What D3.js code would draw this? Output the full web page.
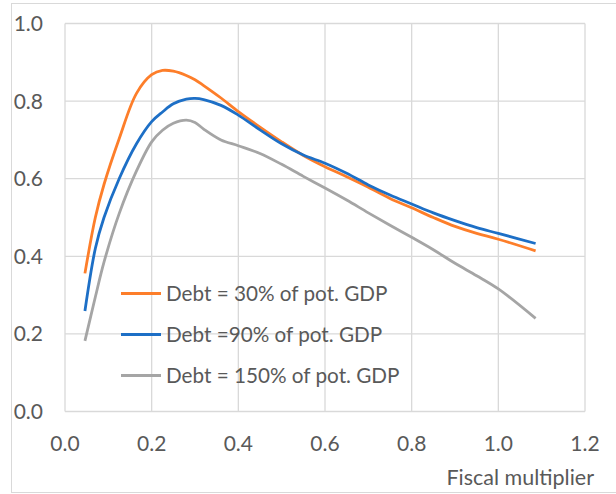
<!DOCTYPE html>
<html>
<head>
<meta charset="utf-8">
<script src="https://cdn.jsdelivr.net/npm/d3@7"></script>
<style>
  html, body { margin: 0; padding: 0; background: #fff; }
  svg text { font-family: Lato, "Open Sans", sans-serif; fill: #595959; }
</style>
</head>
<body>
<svg id="chart" width="616" height="494"></svg>
<script>
// fiscal multiplier (x) shared by all three series
const multiplier = [0.046, 0.07, 0.09, 0.125, 0.165, 0.2, 0.225, 0.25, 0.28, 0.3, 0.32, 0.36, 0.4,
  0.45, 0.5, 0.55, 0.6, 0.65, 0.7, 0.75, 0.8, 0.85, 0.9, 0.95, 1.0, 1.086];

const debt30 = [0.356, 0.50, 0.585, 0.703, 0.820, 0.868, 0.879, 0.877, 0.866, 0.855, 0.840, 0.808, 0.773,
  0.733, 0.695, 0.660, 0.631, 0.605, 0.578, 0.549, 0.525, 0.500, 0.477, 0.459, 0.444, 0.414];
const debt90 = [0.259, 0.42, 0.50, 0.60, 0.69, 0.747, 0.772, 0.793, 0.805, 0.807, 0.804, 0.789, 0.764,
  0.726, 0.690, 0.661, 0.640, 0.614, 0.584, 0.558, 0.535, 0.512, 0.492, 0.474, 0.459, 0.433];
const debt150 = [0.182, 0.295, 0.385, 0.51, 0.62, 0.695, 0.725, 0.743, 0.751, 0.745, 0.728, 0.700, 0.685,
  0.665, 0.637, 0.606, 0.576, 0.545, 0.512, 0.480, 0.449, 0.417, 0.382, 0.350, 0.316, 0.240];

const seriesNames = ["Debt = 30% of pot. GDP", "Debt =90% of pot. GDP", "Debt = 150% of pot. GDP"];
const seriesColors = ["#fd7e2a", "#1d6fc6", "#a5a5a5"];
const xTicks = [0, 0.2, 0.4, 0.6, 0.8, 1.0, 1.2];
const yTicks = [0, 0.2, 0.4, 0.6, 0.8, 1.0];
const xTitle = "Fiscal multiplier";

const svg = d3.select("#chart");

// outer chart border
svg.append("rect")
  .attr("x", 11.5).attr("y", 3.5)
  .attr("width", 610).attr("height", 489)
  .attr("fill", "none").attr("stroke", "#d9d9d9");

const x = d3.scaleLinear().domain([0, 1.2]).range([65, 585]);
const y = d3.scaleLinear().domain([0, 1.0]).range([411.5, 23.5]);

/* GRID */
svg.append("g").selectAll("line")
  .data(xTicks)
  .enter().append("line")
  .attr("x1", d => x(d)).attr("x2", d => x(d))
  .attr("y1", y(0)).attr("y2", y(1))
  .attr("stroke", "#d9d9d9").attr("stroke-width", 1.3);

svg.append("g").selectAll("line")
  .data(yTicks)
  .enter().append("line")
  .attr("x1", x(0)).attr("x2", x(1.2))
  .attr("y1", d => y(d)).attr("y2", d => y(d))
  .attr("stroke", "#d9d9d9").attr("stroke-width", 1.3);

/* AXIS LABELS */
svg.append("g").selectAll("text")
  .data(yTicks)
  .enter().append("text")
  .attr("x", 43).attr("y", d => y(d))
  .attr("dy", "0.36em")
  .attr("text-anchor", "end")
  .attr("font-size", 21)
  .text(d => d.toFixed(1));

svg.append("g").selectAll("text")
  .data(xTicks)
  .enter().append("text")
  .attr("x", d => x(d)).attr("y", 443)
  .attr("dy", "0.36em")
  .attr("text-anchor", "middle")
  .attr("font-size", 21)
  .text(d => d.toFixed(1));

svg.append("text")
  .attr("x", 594).attr("y", 477)
  .attr("dy", "0.36em")
  .attr("text-anchor", "end")
  .attr("font-size", 21.5)
  .text(xTitle);

/* LINES */
const allSeries = [debt30, debt90, debt150];
const line = d3.line()
  .x(d => x(d[0]))
  .y(d => y(d[1]))
  .curve(d3.curveCatmullRom.alpha(0.5));

svg.append("g").selectAll("path")
  .data(allSeries)
  .enter().append("path")
  .attr("d", s => line(multiplier.map((m, i) => [m, s[i]])))
  .attr("fill", "none")
  .attr("stroke", (s, i) => seriesColors[i])
  .attr("stroke-width", 2.8)
  .attr("stroke-linejoin", "round");

/* LEGEND */
const legend = svg.append("g").selectAll("g")
  .data(seriesNames)
  .enter().append("g")
  .attr("transform", (d, i) => `translate(121,${293.5 + i * 41})`);

legend.append("line")
  .attr("x1", 0).attr("x2", 40)
  .attr("stroke", (d, i) => seriesColors[i])
  .attr("stroke-width", 2.8);

legend.append("text")
  .attr("x", 45).attr("dy", "0.36em")
  .attr("font-size", 20.7)
  .text(d => d);
</script>
</body>
</html>
